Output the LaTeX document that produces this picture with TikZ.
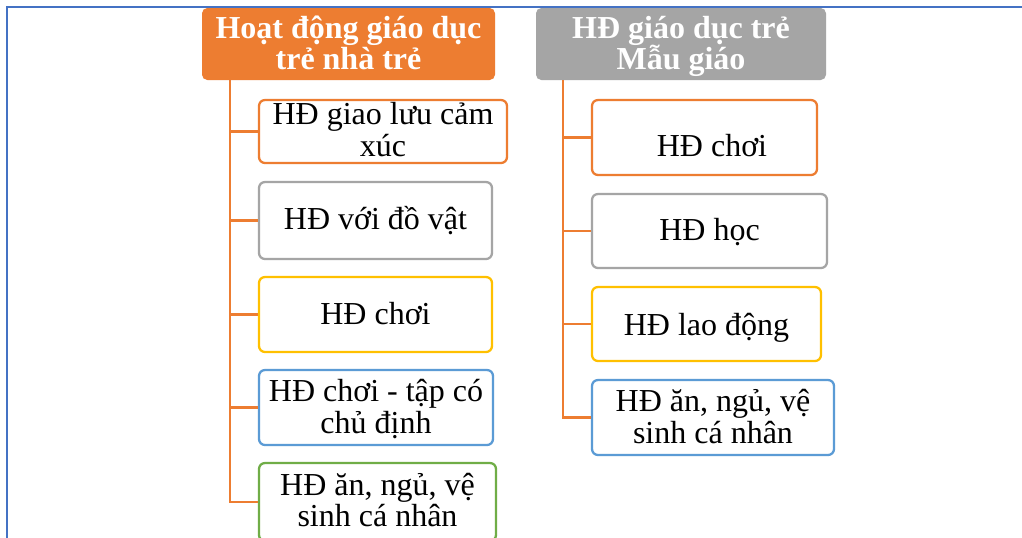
\documentclass[tikz,border=0pt]{standalone}
\usepackage{fontspec}
\setmainfont{Liberation Serif}
\definecolor{cOrange}{HTML}{ED7D31}
\definecolor{cGray}{HTML}{A5A5A5}
\definecolor{cYellow}{HTML}{FFC000}
\definecolor{cBlue}{HTML}{5B9BD5}
\definecolor{cGreen}{HTML}{70AD47}
\definecolor{cFrame}{HTML}{4472C4}
% #1 raise (first baseline relative to centre), #2 baselineskip, #3 lines separated by \cr
\newcommand\boxtext[3]{\smash{\raisebox{#1}{\vtop{\baselineskip=#2\lineskiplimit=-100pt\lineskip=0pt\halign{\hfil##\hfil\cr#3\cr}}}}}
\tikzset{
  header/.style={rounded corners=4pt, inner sep=0pt, text=white,
    font=\fontsize{24}{23.25}\selectfont\bfseries},
  child/.style={draw, rounded corners=4.5pt, line width=1.7pt, fill=white, inner sep=0pt,
    font=\fontsize{24}{23.6}\selectfont},
  conn/.style={draw=cOrange, line width=1.9pt},
}
\begin{document}
\begin{tikzpicture}[x=0.75pt,y=-0.75pt]
\clip (0,0) rectangle (1022,537);
\fill[white] (0,0) rectangle (1022,537);
% frame
\draw[cFrame, line width=1.5pt] (7,540) -- (7,7) -- (1025,7);
% headers
\node[header, fill=cOrange, minimum width=293*0.75pt, minimum height=72*0.75pt] (h1) at (348.5,44)
  {\boxtext{4.5pt}{23.25pt}{Hoạt động giáo dục\cr trẻ nhà trẻ}};
\node[header, fill=cGray, minimum width=290*0.75pt, minimum height=72*0.75pt] (h2) at (681,44)
  {\boxtext{4.5pt}{23.25pt}{HĐ giáo dục trẻ\cr Mẫu giáo}};
% left children
\node[child, draw=cOrange, minimum width=248*0.75pt, minimum height=63*0.75pt] (a1) at (383,131.5)
  {\boxtext{5.6pt}{24pt}{HĐ giao lưu cảm\cr xúc}};
\node[child, draw=cGray, minimum width=233*0.75pt, minimum height=77*0.75pt] (a2) at (375.5,220.5)
  {\boxtext{-7.1pt}{23.6pt}{HĐ với đồ vật}};
\node[child, draw=cYellow, minimum width=233*0.75pt, minimum height=75*0.75pt] (a3) at (375.5,314.5)
  {\boxtext{-7.5pt}{23.6pt}{HĐ chơi}};
\node[child, draw=cBlue, minimum width=234*0.75pt, minimum height=75*0.75pt] (a4) at (376,407.5)
  {\boxtext{4.35pt}{23.6pt}{HĐ chơi - tập có\cr chủ định}};
\node[child, draw=cGreen, minimum width=237*0.75pt, minimum height=78*0.75pt] (a5) at (377.5,502)
  {\boxtext{5.25pt}{23.6pt}{HĐ ăn, ngủ, vệ\cr sinh cá nhân}};
% right children
\node[child, draw=cOrange, minimum width=225*0.75pt, minimum height=75*0.75pt] (b1) at (704.5,137.5)
  {\boxtext{-14.4pt}{23.6pt}{\hspace*{11.2pt}HĐ chơi}};
\node[child, draw=cGray, minimum width=235*0.75pt, minimum height=74*0.75pt] (b2) at (709.5,231)
  {\boxtext{-7.1pt}{23.6pt}{HĐ học}};
\node[child, draw=cYellow, minimum width=229*0.75pt, minimum height=74*0.75pt] (b3) at (706.5,324)
  {\boxtext{-8.25pt}{23.6pt}{HĐ lao động}};
\node[child, draw=cBlue, minimum width=242*0.75pt, minimum height=75*0.75pt] (b4) at (713,417.5)
  {\boxtext{4.35pt}{23.6pt}{HĐ ăn, ngủ, vệ\cr sinh cá nhân}};
% connectors
\coordinate (L) at (230,80);
\coordinate (R) at (563,80);
\foreach \n in {a1,a2,a3,a4,a5} { \draw[conn] (L) |- (\n.west); }
\foreach \n in {b1,b2,b3,b4} { \draw[conn] (R) |- (\n.west); }
\end{tikzpicture}
\end{document}
